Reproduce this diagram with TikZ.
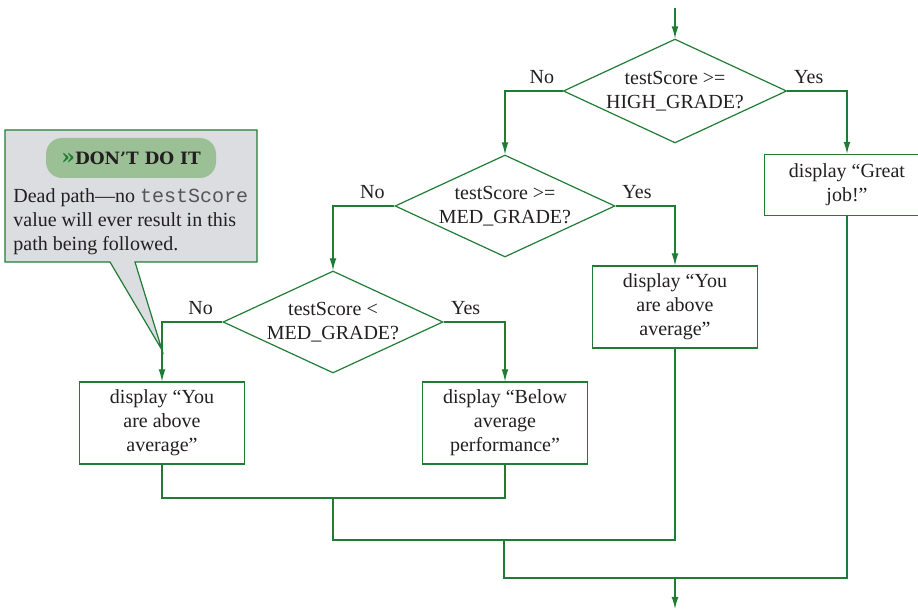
\documentclass[tikz,border=0pt]{standalone}
\usepackage{fontspec}
\setmainfont{LiberationSerif-Regular.ttf}[BoldFont=LiberationSerif-Bold.ttf]
\setmonofont{LiberationMono-Regular.ttf}
\newfontfamily\badgefont{DejaVuSerif-Bold.ttf}
\usetikzlibrary{arrows.meta,shapes.geometric,calc}
\definecolor{flowgreen}{RGB}{32,124,52}
\definecolor{calloutgray}{RGB}{220,221,224}
\definecolor{badgegreen}{RGB}{156,192,150}
\definecolor{inkgray}{RGB}{35,31,32}
\definecolor{codegray}{RGB}{85,85,85}
\tikzset{
	line/.style={draw=flowgreen, line width=0.6pt},
	flow/.style={line, -{Latex[length=6pt,width=3.4pt]}},
	decision/.style={diamond, line, inner sep=0pt, aspect=2.15, minimum width=110pt, minimum height=51pt, align=center, text=inkgray},
	action/.style={rectangle, line, inner sep=0pt, minimum width=82.5pt, align=center, text=inkgray},
	tall/.style={action, minimum height=41pt},
	short/.style={action, minimum height=30.5pt},
	branch/.style={above, text=inkgray, pos=0.18},
}

\begin{document}
\begin{tikzpicture}[x=0.5pt, y=-0.5pt, font=\fontsize{10}{12}\selectfont]
			%%%%% START %%%%%
			\useasboundingbox (0,0) rectangle (918,610);
			
			% decisions
			\node[decision] (high) at (675,91) {testScore >=\\HIGH\_GRADE?};
			\node[decision] (med) at (505,206) {testScore >=\\MED\_GRADE?};
			\node[decision] (low) at (333,322) {testScore <\\MED\_GRADE?};
			
			% actions
			\node[short] (great) at (847,185) {display “Great\\job!”};
			\node[tall] (above1) at (675,307) {display “You\\are above\\average”};
			\node[tall] (above2) at (162,423) {display “You\\are above\\average”};
			\node[tall] (below) at (505,423) {display “Below\\average\\performance”};
			
			\coordinate (entry) at (675,8);
			\coordinate (j1) at (333,498);
			\coordinate (j2) at (504,540);
			\coordinate (j3) at (675,578);
			\coordinate (exit) at (675,609);
			
			\draw[flow] (entry) -- (high.north);
			\draw[flow] (high.west) -| node[branch] {No} (med.north);
			\draw[flow] (high.east) -| node[branch] {Yes} (great.north);
			\draw[flow] (med.west) -| node[branch] {No} (low.north);
			\draw[flow] (med.east) -| node[branch] {Yes} (above1.north);
			\draw[flow] (low.west) -| node[branch] {No} (above2.north);
			\draw[flow] (low.east) -| node[branch] {Yes} (below.north);
			
			% merging paths
			\draw[line] (above2.south) |- (j1) -| (below.south);
			\draw[line] (j1) -- (j1 |- j2) -| (above1.south);
			\draw[line] (j2) -- (j2 |- j3) -| (great.south);
			\draw[flow] (j3) -- (exit);
			
			% callout
			\coordinate (tip) at (162,350);
			\draw[line, fill=calloutgray] (5,130) -- (257,130) -- (257,262) -- (135,262) -- (tip) -- (110,262) -- (5,262) -- cycle;
			\node[fill=badgegreen, rounded corners=8pt, minimum width=85pt, minimum height=20pt, inner sep=0pt] (badge) at (131,158)
				{\badgefont\fontsize{8.5}{10}\selectfont\textcolor{flowgreen}{\fontsize{11}{10}\selectfont »}\textcolor{inkgray}{DON’T DO IT}};
			\node[anchor=north west, align=left, inner sep=0pt, text=inkgray] (note) at (13,188)
				{Dead path—no \textcolor{codegray}{\ttfamily testScore}\\value will ever result in this\\path being followed.};
			
			%%%%% END %%%%%
\end{tikzpicture}
\end{document}
